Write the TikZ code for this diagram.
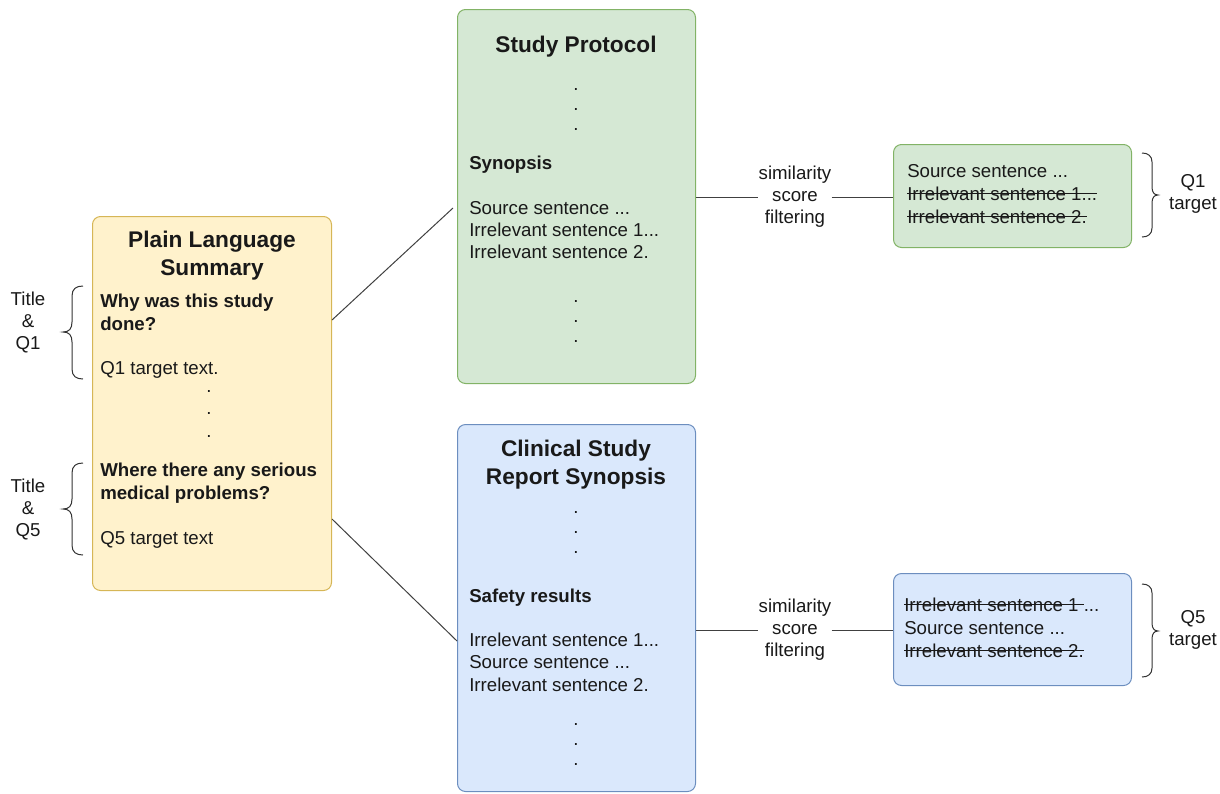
\documentclass[tikz,border=0pt]{standalone}
\usepackage{fontspec}
\setmainfont{Liberation Sans}
\newcommand\mystrike[1]{\setbox0\hbox{#1}\rlap{\copy0}\rule[0.3em]{\wd0}{0.05em}}
\begin{document}
\begin{tikzpicture}[x=0.75pt,y=-0.75pt,
  txt/.style={inner sep=0, font=\fontsize{14}{16}\selectfont, anchor=base west, text=black!90},
  ctxt/.style={txt, anchor=base},
  btxt/.style={txt, font=\bfseries\fontsize{14}{16}\selectfont},
  ttl/.style={inner sep=0, anchor=base, font=\bfseries\fontsize{17}{20}\selectfont, text=black!90},
  mtxt/.style={inner sep=0, align=center, font=\fontsize{14}{16.5}\selectfont, text=black!90},
  simlab/.style={mtxt, fill=white, inner xsep=0pt},
  box/.style={rounded corners=6pt, line width=0.75pt, anchor=north west, inner sep=0},
  ybox/.style={box, draw={rgb,255:red,214;green,182;blue,86}, fill={rgb,255:red,255;green,242;blue,204}},
  gbox/.style={box, draw={rgb,255:red,130;green,179;blue,102}, fill={rgb,255:red,213;green,232;blue,212}},
  bbox/.style={box, draw={rgb,255:red,108;green,142;blue,191}, fill={rgb,255:red,218;green,232;blue,252}},
  conn/.style={line width=0.75pt, draw=black!75},
  brc/.style={line width=0.75pt, draw=black!80}
]
\useasboundingbox (0,0) rectangle (1220,793);

% boxes
\node[ybox, minimum width={239*0.75pt}, minimum height={374*0.75pt}] (ply) at (92,216) {};
\node[gbox, minimum width={238*0.75pt}, minimum height={374*0.75pt}] (sp) at (457,9) {};
\node[bbox, minimum width={238*0.75pt}, minimum height={367*0.75pt}] (csr) at (457,424) {};
\node[gbox, minimum width={238*0.75pt}, minimum height={103*0.75pt}] (q1b) at (893,144) {};
\node[bbox, minimum width={238*0.75pt}, minimum height={112*0.75pt}] (q5b) at (893,573) {};

% yellow box text
\node[ttl] (pt1) at (212,247) {Plain Language};
\node[ttl] (pt2) at (212,275) {Summary};
\node[btxt] (y1) at (100,307) {Why was this study};
\node[btxt] (y2) at (100,330) {done?};
\node[txt] (y3) at (100,374) {Q1 target text.};
\node[ctxt] (yd1) at (209,392) {.};
\node[ctxt] (yd2) at (209,414) {.};
\node[ctxt] (yd3) at (209,437) {.};
\node[btxt] (y4) at (100,476) {Where there any serious};
\node[btxt] (y5) at (100,499) {medical problems?};
\node[txt] (y6) at (100,544) {Q5 target text};

% study protocol text
\node[ttl] (spt) at (576,52) {Study Protocol};
\node[ctxt] (sd1) at (576,90) {.};
\node[ctxt] (sd2) at (576,110) {.};
\node[ctxt] (sd3) at (576,130) {.};
\node[btxt] (syn) at (469,169) {Synopsis};
\node[txt] (s1) at (469,214) {Source sentence ...};
\node[txt] (s2) at (469,236) {Irrelevant sentence 1...};
\node[txt] (s3) at (469,258) {Irrelevant sentence 2.};
\node[ctxt] (sd4) at (576,302) {.};
\node[ctxt] (sd5) at (576,322) {.};
\node[ctxt] (sd6) at (576,342) {.};

% CSR text
\node[ttl] (ct1) at (576,456) {Clinical Study};
\node[ttl] (ct2) at (576,484) {Report Synopsis};
\node[ctxt] (cd1) at (576,513) {.};
\node[ctxt] (cd2) at (576,533) {.};
\node[ctxt] (cd3) at (576,553) {.};
\node[btxt] (saf) at (469,602) {Safety results};
\node[txt] (c1) at (469,646) {Irrelevant sentence 1...};
\node[txt] (c2) at (469,668) {Source sentence ...};
\node[txt] (c3) at (469,691) {Irrelevant sentence 2.};
\node[ctxt] (cd4) at (576,725) {.};
\node[ctxt] (cd5) at (576,745) {.};
\node[ctxt] (cd6) at (576,765) {.};

% small boxes text
\node[txt] (g1) at (907,177) {Source sentence ...};
\node[txt] (g2) at (907,200) {\mystrike{Irrelevant sentence 1...}};
\node[txt] (g3) at (907,223) {\mystrike{Irrelevant sentence 2.}};
\node[txt] (b1) at (904,611) {\mystrike{Irrelevant sentence 1 }...};
\node[txt] (b2) at (904,634) {Source sentence ...};
\node[txt] (b3) at (904,657) {\mystrike{Irrelevant sentence 2.}};

% similarity labels and connectors
\node[simlab] (sim1) at (795,197) {similarity\\score\\filtering};
\node[simlab] (sim5) at (795,630) {similarity\\score\\filtering};
\draw[conn] (sp.east |- sim1) -- (sim1.west);
\draw[conn] (sim1.east) -- (q1b.west |- sim1);
\draw[conn] (csr.east |- sim5) -- (sim5.west);
\draw[conn] (sim5.east) -- (q5b.west |- sim5);

% connectors from summary
\coordinate (a1) at (331,320);
\coordinate (a2) at (453,208);
\coordinate (b1c) at (331,519);
\coordinate (b2c) at (457,641);
\draw[conn] (ply.east |- a1) -- (a2);
\draw[conn] (ply.east |- b1c) -- (b2c);

% side labels
\node[mtxt] (tq1) at (28,322) {Title\\\&\\Q1};
\node[mtxt] (tq5) at (28,509) {Title\\\&\\Q5};
\node[mtxt] (q1t) at (1193,194) {Q1\\target};
\node[mtxt] (q5t) at (1193,630) {Q5\\target};

% braces
\draw[brc] (83,286) .. controls (76,286) and (72,289) .. (72,296) -- (72,322) .. controls (72,329) and (69,332) .. (63,332) .. controls (69,332) and (72,335) .. (72,342) -- (72,369) .. controls (72,376) and (76,379) .. (83,379);
\draw[brc] (83,463) .. controls (76,463) and (72,466) .. (72,473) -- (72,499) .. controls (72,506) and (69,509) .. (63,509) .. controls (69,509) and (72,512) .. (72,519) -- (72,545) .. controls (72,552) and (76,555) .. (83,555);
\draw[brc] (1142,153) .. controls (1148,153) and (1152,156) .. (1152,162) -- (1152,187) .. controls (1152,192) and (1154,195) .. (1158,195) .. controls (1154,195) and (1152,198) .. (1152,203) -- (1152,228) .. controls (1152,234) and (1148,237) .. (1142,237);
\draw[brc] (1142,584) .. controls (1148,584) and (1152,587) .. (1152,593) -- (1152,623) .. controls (1152,628) and (1154,631) .. (1158,631) .. controls (1154,631) and (1152,634) .. (1152,639) -- (1152,668) .. controls (1152,674) and (1148,677) .. (1142,677);
\end{tikzpicture}
\end{document}
